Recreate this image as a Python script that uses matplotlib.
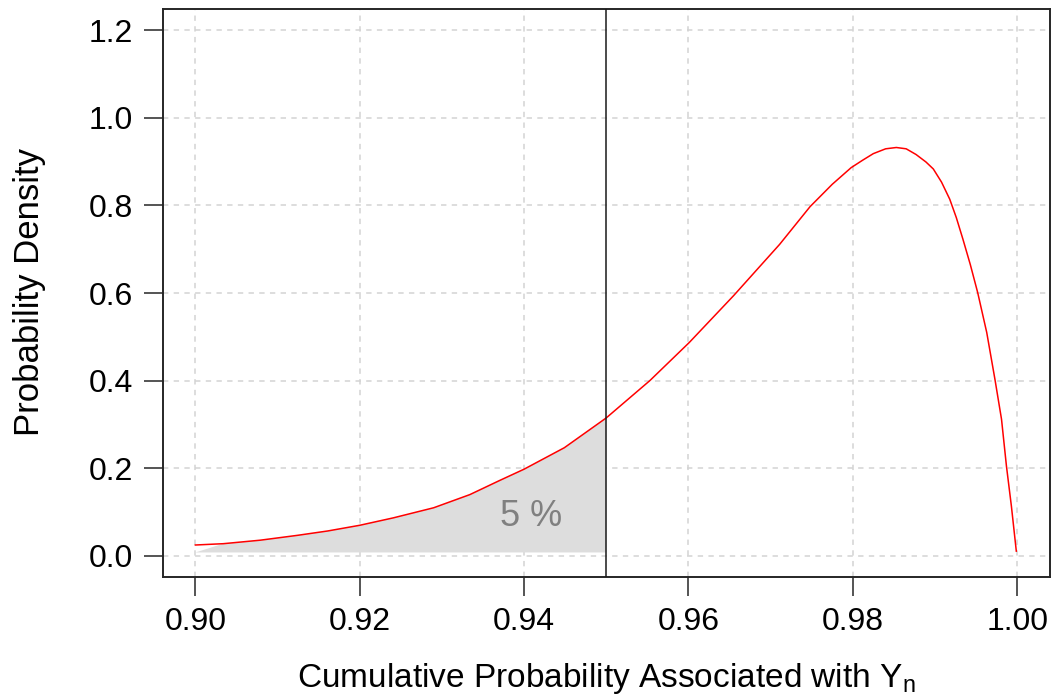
import matplotlib
matplotlib.use("Agg")
import matplotlib.pyplot as plt
import numpy as np

# ---- data ----
x_vals = [0.9000, 0.9034, 0.9079, 0.9124, 0.9161, 0.9200, 0.9241, 0.9290,
          0.9334, 0.9370, 0.9400, 0.9449, 0.9500, 0.9553, 0.9601, 0.9655,
          0.9711, 0.9748, 0.9775, 0.9798, 0.9812, 0.9825, 0.9840, 0.9853,
          0.9865, 0.9877, 0.9889, 0.9898, 0.9908, 0.9918, 0.9926, 0.9934,
          0.9943, 0.9952, 0.9963, 0.9973, 0.9981, 0.9987, 0.9993, 0.9999]
y_vals = [0.025, 0.028, 0.036, 0.047, 0.057, 0.070, 0.087, 0.110,
          0.140, 0.172, 0.198, 0.247, 0.315, 0.400, 0.487, 0.594,
          0.711, 0.797, 0.848, 0.886, 0.903, 0.918, 0.929, 0.932,
          0.929, 0.916, 0.899, 0.883, 0.853, 0.814, 0.772, 0.723,
          0.665, 0.601, 0.510, 0.403, 0.312, 0.205, 0.114, 0.011]
cutoff = 0.95
fill_base = 0.008
label_text = "5 %"
label_pos = (0.9409, 0.091)
x_ticks = [0.90, 0.92, 0.94, 0.96, 0.98, 1.00]
x_ticklabels = ["0.90", "0.92", "0.94", "0.96", "0.98", "1.00"]
y_ticks = [0.0, 0.2, 0.4, 0.6, 0.8, 1.0, 1.2]
y_ticklabels = ["0.0", "0.2", "0.4", "0.6", "0.8", "1.0", "1.2"]

plt.rcParams['font.family'] = ['Liberation Sans', 'DejaVu Sans']
plt.rcParams['mathtext.fontset'] = 'custom'
plt.rcParams['mathtext.rm'] = 'Liberation Sans'
plt.rcParams['mathtext.it'] = 'Liberation Sans'

fig = plt.figure(figsize=(10.53, 6.94), dpi=100)
ax = fig.add_axes([162.5/1053, 1-577/694, (1050-162.5)/1053, (577-9)/694])

xs = np.array(x_vals)
ys = np.array(y_vals)

# grid
for t in x_ticks:
    ax.axvline(t, color='#D3D3D3', lw=1.1, ls=(0, (3.5, 3.5)), zorder=0)
for t in y_ticks:
    ax.axhline(t, color='#D3D3D3', lw=1.1, ls=(0, (3.5, 3.5)), zorder=0)

# shaded area
mask = (xs > xs[0]) & (xs <= cutoff)
fx = np.concatenate([[xs[0]], xs[mask], [cutoff], [cutoff]])
fy = np.concatenate([[fill_base], ys[mask], [ys[mask][-1]], [fill_base]])
ax.fill(fx, fy, color='#DDDDDD', lw=0, zorder=1)

ax.plot(xs, ys, color='#FF0000', lw=1.1, zorder=3)
ax.axvline(cutoff, color='#1a1a1a', lw=1.1, zorder=4)

ax.text(label_pos[0], label_pos[1], label_text, color='#808080', fontsize=26,
        ha='center', va='center', zorder=5)

ax.set_xlim(0.896, 1.004)
ax.set_ylim(-0.048, 1.248)
ax.set_xticks(x_ticks)
ax.set_xticklabels(x_ticklabels)
ax.set_yticks(y_ticks)
ax.set_yticklabels(y_ticklabels)
ax.tick_params(axis='both', labelsize=23, length=13.5, width=1.1,
               color='#262626', labelcolor='black')
ax.tick_params(axis='x', pad=8)
ax.tick_params(axis='y', pad=8)
for s in ax.spines.values():
    s.set_linewidth(1.4)
    s.set_color('#262626')

ax.set_xlabel(r"Cumulative Probability Associated with Y$_\mathregular{n}$", fontsize=24)
ax.xaxis.set_label_coords(0.5, -0.1937)
ax.xaxis.label.set_va('baseline')
ax.set_ylabel("Probability Density", fontsize=25)
ax.yaxis.set_label_coords(-0.1504, 0.502)
ax.yaxis.label.set_va('center')

fig.savefig("out.png", dpi=100)
